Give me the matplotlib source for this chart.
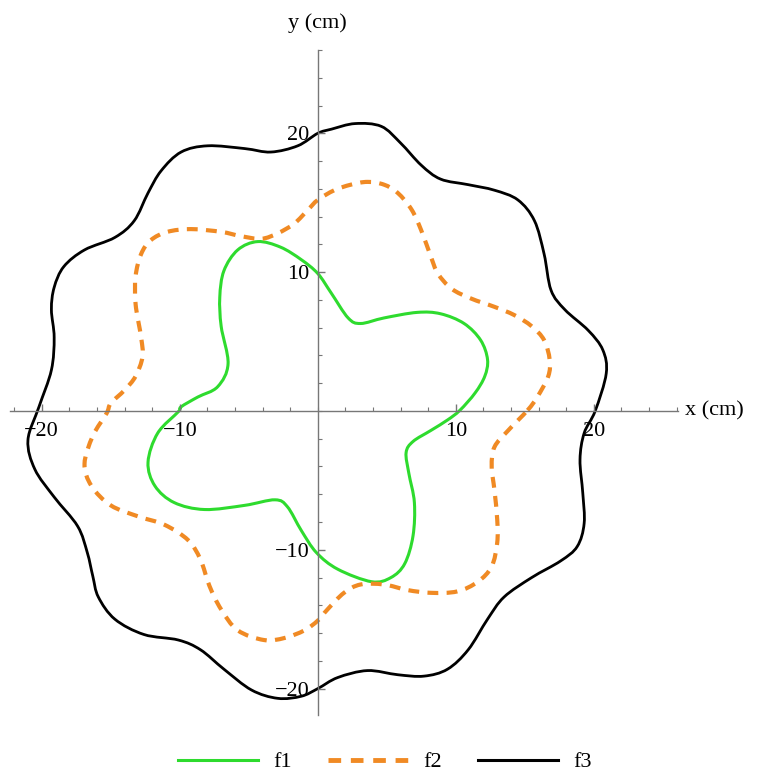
import numpy as np
import matplotlib
matplotlib.use('Agg')
import matplotlib.pyplot as plt
from matplotlib.path import Path
from matplotlib.patches import PathPatch
from matplotlib.lines import Line2D
from matplotlib.ticker import MultipleLocator, FixedLocator

# ── curve points (cm), counter-clockwise from +x ─────────────────────────────
f1_x = [10.3, 11.4, 12.1, 12.3, 11.8, 10.6, 8.9, 7.2, 4.8, 3.1, 2.2, 0.97, 0.0,
        -1.2, -2.7, -4.35, -5.8, -6.8, -7.1, -7.0, -6.5, -7.25, -8.7, -9.9,
        -10.1, -11.6, -12.3, -11.8, -10.4, -8.2, -5.3, -3.1, -2.2, -1.2, -0.1,
        1.45, 3.9, 5.3, 6.3, 6.9, 7.0, 6.6, 6.4, 6.9, 8.2, 9.4]
f1_y = [0.05, 1.3, 2.5, 3.7, 5.1, 6.3, 7.0, 7.1, 6.7, 6.3, 6.7, 8.5, 9.9,
        10.9, 11.8, 12.2, 11.6, 10.1, 8.2, 6.1, 3.4, 1.75, 1.0, 0.3,
        -0.05, -1.6, -3.7, -5.4, -6.6, -7.1, -6.8, -6.4, -6.9, -8.6, -10.2,
        -11.4, -12.3, -12.0, -11.0, -9.0, -6.6, -4.5, -3.0, -2.2, -1.4, -0.65]

f2_x = [15.2, 15.9, 16.7, 16.8, 16.4, 15.5, 14.25, 12.8, 11.1, 9.7, 8.7, 8.2,
        7.5, 6.8, 5.8, 4.8, 3.6, 2.4, 1.2, 0.0,
        -0.7, -1.7, -2.9, -4.1, -5.6, -7.0, -9.2, -10.9, -12.1, -12.8, -13.2,
        -13.2, -12.8, -12.7, -13.2, -14.0, -15.0,
        -15.3, -16.3, -16.9, -16.4, -15.0, -13.0, -11.1, -9.4, -8.5, -7.85,
        -7.0, -5.8, -3.9, -2.4, -0.96, 0.0,
        0.7, 1.9, 3.1, 4.8, 6.5, 8.2, 10.1, 11.6, 12.6, 13.0, 13.0, 12.8, 12.6,
        12.8, 13.8]
f2_y = [0.05, 1.0, 2.5, 3.7, 5.1, 6.1, 6.9, 7.5, 8.1, 8.8, 9.9, 11.1,
        13.0, 14.5, 15.7, 16.3, 16.5, 16.3, 15.9, 15.2,
        14.5, 13.5, 12.8, 12.4, 12.6, 12.9, 13.1, 12.9, 12.3, 11.3, 9.7,
        7.7, 5.3, 3.9, 2.5, 1.5, 0.55,
        -0.17, -1.8, -3.8, -5.4, -6.8, -7.6, -8.2, -9.3, -10.7, -12.6,
        -14.3, -15.8, -16.5, -16.35, -15.8, -15.1,
        -14.3, -13.1, -12.5, -12.5, -12.9, -13.1, -13.0, -12.3, -11.2, -9.5,
        -7.8, -5.7, -4.0, -2.6, -1.4]

f3_x = [20.1, 20.9, 20.65, 19.6, 17.9, 16.9, 16.4, 15.7, 14.5, 12.8, 10.9,
        8.9, 7.5, 6.0, 4.6, 2.7, 1.0, 0.0,
        -1.45, -3.4, -5.3, -7.97, -9.9, -11.35, -12.3, -13.3, -14.7, -16.9,
        -18.4, -19.1, -19.3, -19.1, -19.3, -20.2,
        -21.0, -20.5, -19.1, -17.4, -16.7, -16.3, -15.9, -14.7, -12.6, -10.1,
        -8.5, -6.8, -4.8, -2.9, -1.2, 0.0,
        1.45, 3.6, 5.8, 7.7, 9.4, 10.9, 12.3, 13.5, 15.5, 17.6, 18.8, 19.3,
        19.2, 19.0, 19.3]
f3_y = [0.0, 2.7, 4.4, 5.8, 7.3, 8.7, 11.3, 13.7, 15.2, 15.9, 16.3,
        16.7, 17.7, 19.3, 20.5, 20.7, 20.3, 20.0,
        19.1, 18.65, 18.9, 19.1, 18.65, 17.3, 15.7, 13.7, 12.5, 11.6,
        10.4, 8.9, 7.3, 5.3, 2.95, 0.3,
        -2.1, -4.2, -6.2, -8.3, -10.2, -11.9, -13.4, -15.0, -16.1, -16.5,
        -17.2, -18.6, -20.1, -20.7, -20.55, -20.0,
        -19.2, -18.7, -19.0, -19.1, -18.6, -17.2, -15.0, -13.4, -12.0, -10.8,
        -9.76, -8.1, -5.9, -3.5, -1.6]

X_RANGE = (-22.3, 26.1)
Y_RANGE = (-21.9, 26.0)

GREEN  = '#2edb2e'
ORANGE = '#f08a24'
AXIS_C = '#777777'
DASH   = (2.6, 2.0)

plt.rcParams['font.family'] = ['Liberation Serif', 'DejaVu Serif']
plt.rcParams['font.size'] = 16


def smooth_loop(xs, ys):
    """Closed Bezier path through the read points (Catmull-Rom handles)."""
    p = np.column_stack([xs, ys])
    n = len(p)
    verts = [p[0]]
    codes = [Path.MOVETO]
    for i in range(n):
        p0, p1, p2, p3 = p[i - 1], p[i], p[(i + 1) % n], p[(i + 2) % n]
        verts += [p1 + (p2 - p0) / 6, p2 - (p3 - p1) / 6, p2]
        codes += [Path.CURVE4] * 3
    return Path(verts, codes)


fig = plt.figure(figsize=(7.59, 7.75), dpi=100)
ax = fig.add_axes([10 / 759, 60 / 775, 668 / 759, 665 / 775])

ax.add_patch(PathPatch(smooth_loop(f1_x, f1_y), fill=False, ec=GREEN, lw=2.2))
ax.add_patch(PathPatch(smooth_loop(f2_x, f2_y), fill=False, ec=ORANGE, lw=3.0,
                       linestyle=(0, DASH), capstyle='butt'))
ax.add_patch(PathPatch(smooth_loop(f3_x, f3_y), fill=False, ec='black', lw=2.0))

ax.set_xlim(*X_RANGE)
ax.set_ylim(*Y_RANGE)

# Mathematica-style axes through the origin
for s in ('top', 'right'):
    ax.spines[s].set_visible(False)
for s in ('left', 'bottom'):
    ax.spines[s].set_position(('data', 0))
    ax.spines[s].set_color(AXIS_C)
    ax.spines[s].set_linewidth(1.0)

ax.xaxis.set_major_locator(FixedLocator([-20, -10, 10, 20]))
ax.yaxis.set_major_locator(FixedLocator([-20, -10, 10, 20]))
ax.xaxis.set_minor_locator(MultipleLocator(2))
ax.yaxis.set_minor_locator(MultipleLocator(2))
ax.tick_params(which='both', direction='in', color=AXIS_C, labelsize=16)
ax.tick_params(which='major', length=5, width=1.0)
ax.tick_params(which='minor', length=3, width=0.8)
ax.tick_params(axis='x', pad=8)
ax.tick_params(axis='y', pad=6)

ax.text(1.01, 0, 'x (cm)', transform=ax.get_yaxis_transform(),
        ha='left', va='center', fontsize=16)
ax.text(0, 1.0 + 27 / 665, 'y (cm)', transform=ax.get_xaxis_transform(),
        ha='center', va='center', fontsize=16)

handles = [Line2D([], [], color=GREEN, lw=2.2),
           Line2D([], [], color=ORANGE, lw=3.5, dashes=DASH),
           Line2D([], [], color='black', lw=2.2)]
fig.legend(handles, ['f1', 'f2', 'f3'], loc='center',
           bbox_to_anchor=(0.507, 13 / 775), ncol=3, frameon=False,
           handlelength=3.6, handletextpad=0.7, columnspacing=1.6,
           fontsize=16)

fig.savefig('out.png', dpi=100)
